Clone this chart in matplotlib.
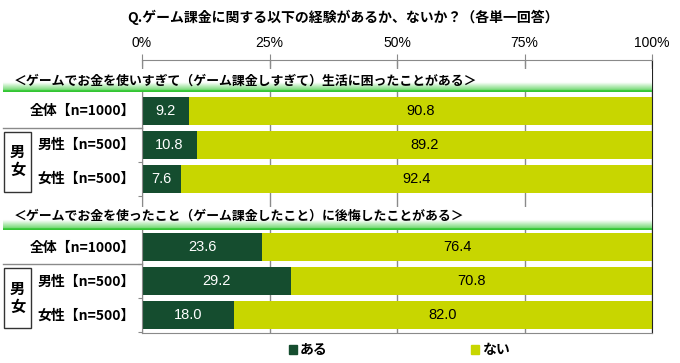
import numpy as np
import matplotlib
matplotlib.use('Agg')
import matplotlib.pyplot as plt
from matplotlib.patches import Rectangle, Patch

plt.rcParams['font.family'] = ['Noto Sans CJK JP', 'DejaVu Sans']

title = 'Q.ゲーム課金に関する以下の経験があるか、ないか？（各単一回答）'
sections = ['＜ゲームでお金を使いすぎて（ゲーム課金しすぎて）生活に困ったことがある＞',
            '＜ゲームでお金を使ったこと（ゲーム課金したこと）に後悔したことがある＞']
rows = ['全体【n=1000】', '男性【n=500】', '女性【n=500】']
series = ['ある', 'ない']
aru_1 = [9.2, 10.8, 7.6]
nai_1 = [90.8, 89.2, 92.4]
aru_2 = [23.6, 29.2, 18.0]
nai_2 = [76.4, 70.8, 82.0]
xticks = [0, 25, 50, 75, 100]
xticklabels = ['0%', '25%', '50%', '75%', '100%']

DARK = '#154d2f'
LIGHT = '#c8d600'
GRID = '#8a8a8a'

W, H = 680, 363
fig = plt.figure(figsize=(W / 100, H / 100), dpi=100)

# main axes; y axis is in pixel units (top = 60, bottom = 333)
x0, x1, ytop, ybot = 142, 652, 60, 333
ax = fig.add_axes([x0 / W, 1 - ybot / H, (x1 - x0) / W, (ybot - ytop) / H])
ax.set_xlim(0, 100)
ax.set_ylim(ybot, ytop)
px = 100 / (x1 - x0)  # data units per pixel in x

centers_1 = [111, 145, 179]
centers_2 = [247.5, 281.5, 315.5]
bh = 28

for centers, aru, nai in [(centers_1, aru_1, nai_1), (centers_2, aru_2, nai_2)]:
    ax.barh(centers, aru, height=bh, color=DARK, zorder=2)
    ax.barh(centers, nai, left=aru, height=bh, color=LIGHT, zorder=2)
    for c, a, n in zip(centers, aru, nai):
        ax.text(a / 2, c, f'{a:.1f}', ha='center', va='center', color='white',
                fontsize=10.5, family='Liberation Sans', zorder=3)
        ax.text(a + n / 2, c, f'{n:.1f}', ha='center', va='center', color='black',
                fontsize=10.5, family='Liberation Sans', zorder=3)
    for c, lbl in zip(centers, rows):
        ax.text(-7 * px, c, lbl, ha='right', va='center', fontsize=10,
                fontweight='bold', zorder=3)
    # separator between 全体 and 男女
    sep = (centers[0] + centers[1]) / 2
    ax.plot([-139 * px, 0], [sep, sep], color=GRID, lw=1, clip_on=False, zorder=3)
    # 男女 box
    ax.add_patch(Rectangle((-138 * px, sep + 4), 27.5 * px, 60, fill=False,
                           ec='#333333', lw=1, clip_on=False, zorder=3))
    ax.text(-124.5 * px, sep + 24, '男', ha='center', va='center', fontsize=11,
            fontweight='bold', zorder=3)
    ax.text(-124.5 * px, sep + 42, '女', ha='center', va='center', fontsize=11,
            fontweight='bold', zorder=3)

# axes styling
ax.set_axisbelow(True)
ax.grid(axis='x', color=GRID, lw=1)
ax.xaxis.tick_top()
ax.set_xticks(xticks)
ax.set_xticklabels(xticklabels, fontsize=10, family='Liberation Sans')
ax.tick_params(axis='x', direction='inout', length=9, color=GRID, pad=3)
bounds = [128, 162, 196, 264.5, 298.5, 332.5]
ax.set_yticks(bounds)
ax.set_yticklabels([])
ax.tick_params(axis='y', direction='out', length=3, color=GRID)
for s in ['top', 'left', 'bottom']:
    ax.spines[s].set_color(GRID)
ax.spines['right'].set_color('#222222')

# section header bands
def band(ytxt, y_white, y_grad, y_line, y_end, text):
    bax = fig.add_axes([3 / W, 1 - y_end / H, (x1 - 3) / W, (y_end - y_white) / H])
    bax.set_zorder(5)
    bax.axis('off')
    n = 100
    ys = np.linspace(y_white, y_end, n)
    img = np.ones((n, 1, 3))
    green_lo = np.array([0.45, 0.85, 0.45])
    for i, y in enumerate(ys):
        if y >= y_line:
            img[i, 0] = [0.20, 0.78, 0.20]
        elif y >= y_grad:
            t = (y - y_grad) / (y_line - y_grad)
            img[i, 0] = (1 - t) * np.ones(3) + t * green_lo
    bax.imshow(img, aspect='auto', extent=[0, 1, 0, 1], interpolation='bilinear')
    fig.text(14 / W, 1 - ytxt / H, text, ha='left', va='center', fontsize=9.3,
             fontweight='bold', zorder=6)

band(81, 69, 83, 90.8, 92.5, sections[0])
band(216, 207, 220, 228.3, 230, sections[1])

fig.text(343 / W, 1 - 17 / H, title, ha='center', va='center', fontsize=10,
         fontweight='bold')

handles = [Patch(color=DARK), Patch(color=LIGHT)]
fig.legend(handles, series, loc='center', bbox_to_anchor=(399 / W, 1 - 350 / H),
           ncol=2, frameon=False, handlelength=0.6, handleheight=0.6,
           handletextpad=0.2, columnspacing=10.3,
           prop={'size': 10, 'weight': 'bold', 'family': ['Noto Sans CJK JP']})

fig.savefig('out.png', dpi=100)
